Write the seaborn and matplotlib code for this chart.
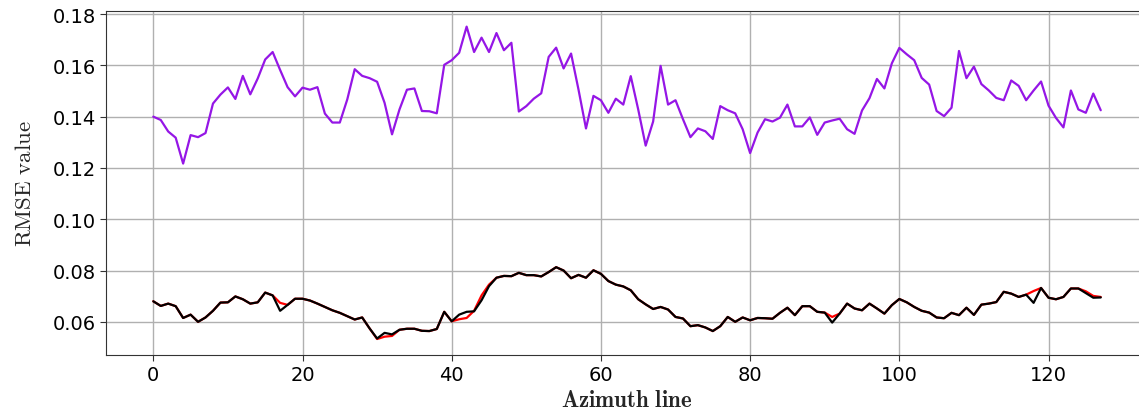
import numpy as np
import pandas as pd
import matplotlib
matplotlib.use("Agg")
import matplotlib.pyplot as plt
import seaborn as sns

# RMSE per azimuth line
azimuth = list(range(128))

rmse_purple = [
    0.1400, 0.1387, 0.1342, 0.1318, 0.1217, 0.1328, 0.1320, 0.1336, 0.1451, 0.1486,
    0.1514, 0.1469, 0.1559, 0.1487, 0.1549, 0.1623, 0.1652, 0.1582, 0.1515, 0.1479,
    0.1513, 0.1505, 0.1515, 0.1412, 0.1377, 0.1377, 0.1467, 0.1585, 0.1559, 0.1550,
    0.1536, 0.1454, 0.1331, 0.1428, 0.1505, 0.1510, 0.1422, 0.1421, 0.1413, 0.1602,
    0.1620, 0.1649, 0.1751, 0.1652, 0.1708, 0.1652, 0.1726, 0.1659, 0.1688, 0.1420,
    0.1441, 0.1470, 0.1491, 0.1633, 0.1669, 0.1588, 0.1646, 0.1505, 0.1354, 0.1481,
    0.1464, 0.1415, 0.1470, 0.1447, 0.1558, 0.1428, 0.1287, 0.1381, 0.1598, 0.1447,
    0.1464, 0.1390, 0.1320, 0.1354, 0.1343, 0.1313, 0.1441, 0.1425, 0.1413, 0.1351,
    0.1258, 0.1338, 0.1390, 0.1381, 0.1396, 0.1447, 0.1362, 0.1362, 0.1397, 0.1329,
    0.1377, 0.1385, 0.1392, 0.1351, 0.1333, 0.1424, 0.1472, 0.1547, 0.1510, 0.1608,
    0.1668, 0.1643, 0.1620, 0.1551, 0.1525, 0.1422, 0.1402, 0.1435, 0.1656, 0.1550,
    0.1595, 0.1527, 0.1502, 0.1473, 0.1464, 0.1541, 0.1520, 0.1464, 0.1502, 0.1537,
    0.1443, 0.1395, 0.1358, 0.1502, 0.1428, 0.1415, 0.1490, 0.1425,
]

rmse_red = [
    0.0680, 0.0662, 0.0671, 0.0661, 0.0615, 0.0628, 0.0600, 0.0617, 0.0643, 0.0675,
    0.0676, 0.0699, 0.0688, 0.0671, 0.0676, 0.0714, 0.0703, 0.0674, 0.0666, 0.0690,
    0.0690, 0.0683, 0.0671, 0.0658, 0.0645, 0.0635, 0.0622, 0.0609, 0.0617, 0.0574,
    0.0533, 0.0542, 0.0545, 0.0569, 0.0573, 0.0573, 0.0565, 0.0564, 0.0572, 0.0639,
    0.0602, 0.0610, 0.0615, 0.0643, 0.0703, 0.0745, 0.0772, 0.0779, 0.0778, 0.0791,
    0.0782, 0.0782, 0.0777, 0.0794, 0.0813, 0.0800, 0.0770, 0.0783, 0.0772, 0.0801,
    0.0787, 0.0759, 0.0745, 0.0738, 0.0723, 0.0688, 0.0668, 0.0650, 0.0658, 0.0648,
    0.0619, 0.0613, 0.0583, 0.0587, 0.0578, 0.0564, 0.0583, 0.0619, 0.0600, 0.0617,
    0.0606, 0.0615, 0.0614, 0.0612, 0.0635, 0.0655, 0.0626, 0.0661, 0.0661, 0.0639,
    0.0636, 0.0619, 0.0632, 0.0671, 0.0652, 0.0645, 0.0671, 0.0652, 0.0632, 0.0665,
    0.0689, 0.0676, 0.0658, 0.0643, 0.0636, 0.0617, 0.0614, 0.0635, 0.0626, 0.0655,
    0.0627, 0.0667, 0.0671, 0.0677, 0.0717, 0.0710, 0.0697, 0.0706, 0.0720, 0.0732,
    0.0694, 0.0688, 0.0697, 0.0730, 0.0730, 0.0719, 0.0701, 0.0697,
]

rmse_black = [
    0.0680, 0.0662, 0.0671, 0.0661, 0.0615, 0.0628, 0.0600, 0.0617, 0.0643, 0.0675,
    0.0676, 0.0699, 0.0688, 0.0671, 0.0676, 0.0714, 0.0703, 0.0643, 0.0666, 0.0690,
    0.0690, 0.0683, 0.0671, 0.0658, 0.0645, 0.0635, 0.0622, 0.0609, 0.0617, 0.0574,
    0.0535, 0.0557, 0.0551, 0.0569, 0.0573, 0.0573, 0.0565, 0.0564, 0.0572, 0.0639,
    0.0602, 0.0628, 0.0639, 0.0641, 0.0684, 0.0739, 0.0772, 0.0779, 0.0778, 0.0791,
    0.0782, 0.0782, 0.0777, 0.0794, 0.0813, 0.0800, 0.0770, 0.0783, 0.0772, 0.0801,
    0.0787, 0.0759, 0.0745, 0.0738, 0.0723, 0.0688, 0.0668, 0.0650, 0.0658, 0.0648,
    0.0619, 0.0613, 0.0583, 0.0587, 0.0578, 0.0564, 0.0583, 0.0619, 0.0600, 0.0617,
    0.0606, 0.0615, 0.0614, 0.0612, 0.0635, 0.0655, 0.0626, 0.0661, 0.0661, 0.0639,
    0.0636, 0.0597, 0.0632, 0.0671, 0.0652, 0.0645, 0.0671, 0.0652, 0.0632, 0.0665,
    0.0689, 0.0676, 0.0658, 0.0643, 0.0636, 0.0617, 0.0614, 0.0635, 0.0626, 0.0655,
    0.0627, 0.0667, 0.0671, 0.0677, 0.0717, 0.0710, 0.0697, 0.0706, 0.0674, 0.0732,
    0.0694, 0.0688, 0.0697, 0.0730, 0.0730, 0.0712, 0.0694, 0.0695,
]

sns.set_style("ticks")
plt.rcParams["mathtext.fontset"] = "cm"

fig = plt.figure(figsize=(11.39, 4.14), dpi=100)
# right edge of the axes sits just past the picture, as in the source image
ax = fig.add_axes([0.093, 0.141, 0.915, 0.830])

sns.lineplot(x=azimuth, y=rmse_purple, ax=ax, color="#9516e6", linewidth=1.6)
sns.lineplot(x=azimuth, y=rmse_red, ax=ax, color="red", linewidth=1.6)
sns.lineplot(x=azimuth, y=rmse_black, ax=ax, color="black", linewidth=1.6)

ax.grid(True, color="#b0b0b0", linewidth=1.0)
ax.set_axisbelow(True)
ax.set_xticks([0, 20, 40, 60, 80, 100, 120])
ax.set_yticks([0.06, 0.08, 0.10, 0.12, 0.14, 0.16, 0.18])
ax.set_yticklabels(["0.06", "0.08", "0.10", "0.12", "0.14", "0.16", "0.18"])
ax.tick_params(labelsize=14, length=4, color="#333333", labelcolor="black")
for s in ax.spines.values():
    s.set_color("#333333")
ax.set_xlabel(r"$\mathbf{Azimuth\ line}$", fontsize=16.5, labelpad=3)
ax.set_ylabel(r"$\mathrm{RMSE\ value}$", fontsize=16.5, labelpad=12)

fig.savefig("out.png", dpi=100)
